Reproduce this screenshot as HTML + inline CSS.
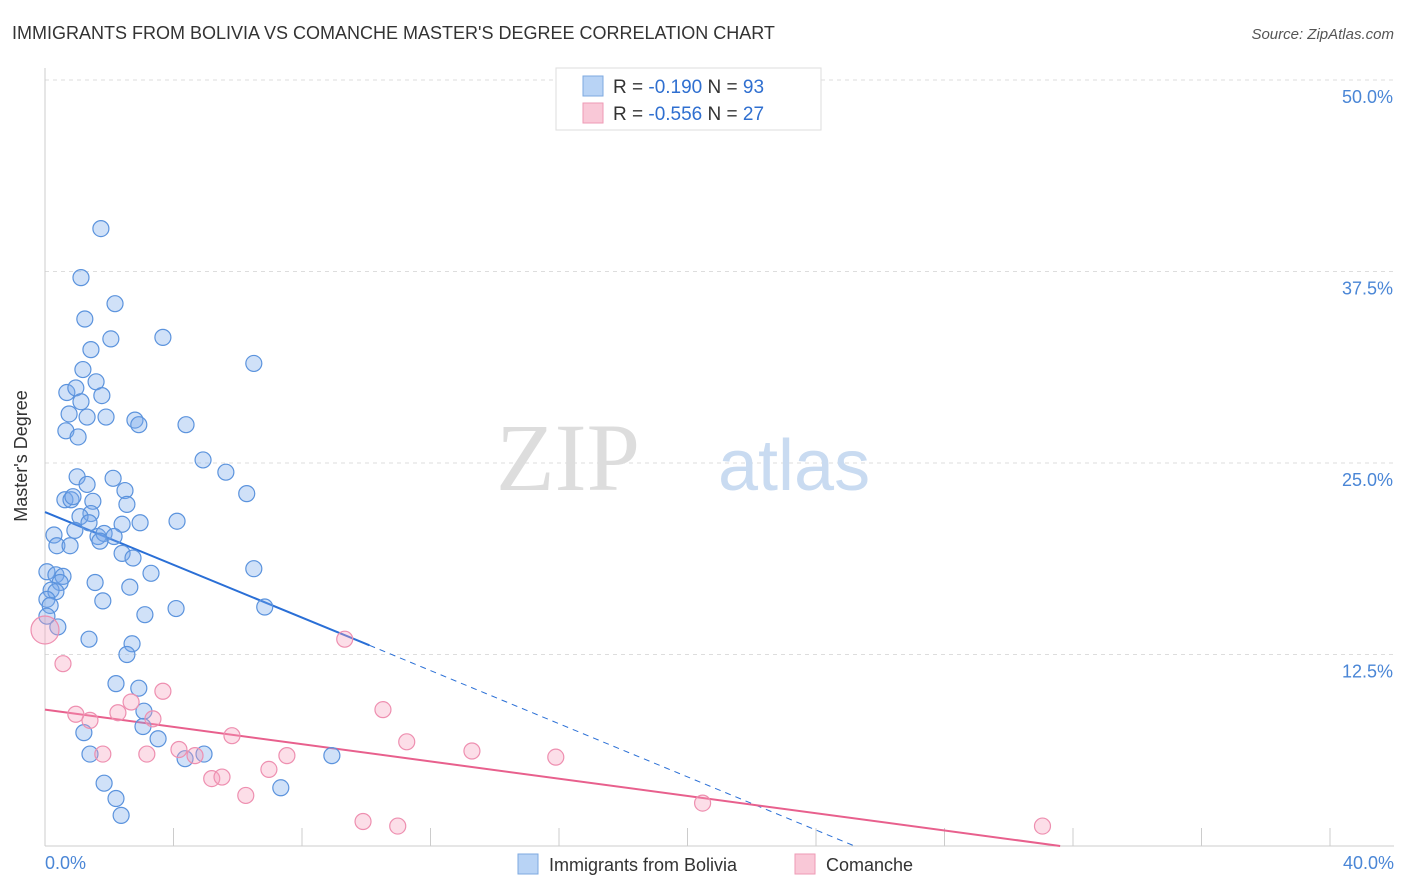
<!DOCTYPE html>
<html><head><meta charset="utf-8"><style>
body{margin:0;background:#fff;font-family:"Liberation Sans",sans-serif;}
svg{display:block}
</style></head><body>
<svg width="1406" height="892" xmlns="http://www.w3.org/2000/svg">
<text x="12" y="39" font-size="18" fill="#333">IMMIGRANTS FROM BOLIVIA VS COMANCHE MASTER'S DEGREE CORRELATION CHART</text>
<text x="1394" y="39" font-size="15" fill="#555" font-style="italic" text-anchor="end">Source: ZipAtlas.com</text>
<g id="grid"></g>
<text x="640" y="490" font-size="96" fill="#ddd" font-family="Liberation Serif" text-anchor="end">ZIP</text>
<text x="718" y="490" font-size="72" fill="#c9dbf1">atlas</text>
<g id="lines"></g>
<g id="points"></g>
<text x="27" y="456" font-size="18" fill="#333" transform="rotate(-90 27 456)" text-anchor="middle">Master's Degree</text>
<text x="45" y="869" font-size="18" fill="#4a86d6">0.0%</text>
<text x="1394" y="869" font-size="18" fill="#4a86d6" text-anchor="end">40.0%</text>
<g>
<rect x="556" y="68" width="265" height="62" fill="#fff" stroke="#ddd"/>
<rect x="583" y="76" width="20" height="20" fill="#b8d3f5" stroke="#7ea9e0"/>
<rect x="583" y="103" width="20" height="20" fill="#f9c8d7" stroke="#ee9ab4"/>
<text x="613" y="93" font-size="19" fill="#333">R = <tspan fill="#2f6fd0">-0.190</tspan>   N = <tspan fill="#2f6fd0">93</tspan></text>
<text x="613" y="120" font-size="19" fill="#333">R = <tspan fill="#2f6fd0">-0.556</tspan>   N = <tspan fill="#2f6fd0">27</tspan></text>
</g>
<g>
<rect x="518" y="854" width="20" height="20" fill="#b8d3f5" stroke="#7ea9e0"/>
<text x="549" y="871" font-size="18" fill="#333">Immigrants from Bolivia</text>
<rect x="795" y="854" width="20" height="20" fill="#f9c8d7" stroke="#ee9ab4"/>
<text x="826" y="871" font-size="18" fill="#333">Comanche</text>
</g>
</svg>
<script>
const yTicks=[12.5,25,37.5,50];
const yTickLabels=["12.5%","25.0%","37.5%","50.0%"];
const xTicks=[0,4,8,12,16,20,24,28,32,36,40];
const blueX=[1.74,1.12,2.18,1.24,2.05,3.67,1.43,6.5,1.18,1.59,0.68,0.96,1.77,1.12,0.75,1.31,1.9,2.8,2.92,4.39,0.65,1.03,4.92,5.63,1.0,2.12,1.31,2.49,6.28,0.62,0.81,0.87,1.49,2.55,1.43,1.09,1.37,2.4,2.96,4.11,0.28,0.93,1.65,1.84,2.15,1.71,0.37,0.78,2.4,2.74,3.3,0.06,0.34,0.56,0.47,1.56,6.5,0.19,0.34,2.64,0.06,0.16,1.8,3.11,4.08,6.84,0.06,0.4,1.37,2.71,2.55,2.21,2.92,3.08,3.05,3.52,1.21,1.4,4.36,4.95,8.93,1.84,2.21,7.34,2.37];
const blueY=[40.3,37.1,35.4,34.4,33.1,33.2,32.4,31.5,31.1,30.3,29.6,29.9,29.4,29.0,28.2,28.0,28.0,27.8,27.5,27.5,27.1,26.7,25.2,24.4,24.1,24.0,23.6,23.2,23.0,22.6,22.6,22.8,22.5,22.3,21.7,21.5,21.1,21.0,21.1,21.2,20.3,20.6,20.2,20.4,20.2,19.9,19.6,19.6,19.1,18.8,17.8,17.9,17.7,17.6,17.2,17.2,18.1,16.7,16.6,16.9,16.1,15.7,16.0,15.1,15.5,15.6,15.0,14.3,13.5,13.2,12.5,10.6,10.3,8.8,7.8,7.0,7.4,6.0,5.7,6.0,5.9,4.1,3.1,3.8,2.0];
const pinkX=[0.0,0.56,0.96,1.4,1.8,2.27,2.68,3.36,3.67,3.17,4.17,4.67,5.82,5.19,5.51,6.25,6.97,7.53,9.33,10.52,11.26,9.9,10.98,13.29,15.9,20.47,31.05];
const pinkY=[14.1,11.9,8.6,8.2,6.0,8.7,9.4,8.3,10.1,6.0,6.3,5.9,7.2,4.4,4.5,3.3,5.0,5.9,13.5,8.9,6.8,1.6,1.3,6.2,5.8,2.8,1.3];
const blueTrend=[0,21.8,10.1,13.1,25.2,0];
const pinkTrend=[0,8.9,31.6,0];
const X0=45,X1=1330,Y0=846,Y50=80;
const sx=v=>X0+(v/40)*(X1-X0);
const sy=v=>Y0-(v/50)*(Y0-Y50);
const NS="http://www.w3.org/2000/svg";
function mk(tag,attrs,parent){const e=document.createElementNS(NS,tag);for(const k in attrs)e.setAttribute(k,attrs[k]);parent.appendChild(e);return e;}
const grid=document.getElementById('grid');
yTicks.forEach((t,i)=>{
 const l=mk('line',{x1:45,x2:1394,y1:sy(t),y2:sy(t),stroke:'#ddd','stroke-dasharray':'4,4'},grid);
 
 
 const tx=mk('text',{x:1393,y:sy(t)+23,'font-size':18,fill:'#4a86d6','text-anchor':'end'},grid);
 tx.textContent=yTickLabels[i];
 
 
});
const ax=mk('line',{x1:45,x2:45,y1:68,y2:846,stroke:'#ccc'},grid);


const bx=mk('line',{x1:45,x2:1394,y1:846,y2:846,stroke:'#ccc'},grid);


xTicks.forEach(t=>{
 const l=mk('line',{x1:sx(t),x2:sx(t),y1:828,y2:846,stroke:'#ccc'},grid);
 
 
});
const lines=document.getElementById('lines');
const bl=mk('line',{x1:sx(blueTrend[0]),y1:sy(blueTrend[1]),x2:sx(blueTrend[2]),y2:sy(blueTrend[3]),stroke:'#2a6fd6','stroke-width':2},lines);


const bd=mk('line',{x1:sx(blueTrend[2]),y1:sy(blueTrend[3]),x2:sx(blueTrend[4]),y2:sy(blueTrend[5]),stroke:'#2a6fd6','stroke-width':1,'stroke-dasharray':'6,5'},lines);


const pl=mk('line',{x1:sx(pinkTrend[0]),y1:sy(pinkTrend[1]),x2:sx(pinkTrend[2]),y2:sy(pinkTrend[3]),stroke:'#e8608d','stroke-width':2},lines);


const pts=document.getElementById('points');
blueX.forEach((x,i)=>{
 const c=mk('circle',{cx:sx(x),cy:sy(blueY[i]),r:8,fill:'rgba(120,170,235,0.35)',stroke:'#5b93dd','stroke-width':1.2},pts);
 
 
});
pinkX.forEach((x,i)=>{
 const c=mk('circle',{cx:sx(x),cy:sy(pinkY[i]),r:i==0?14:8,fill:'rgba(245,160,190,0.35)',stroke:'#ee8fb0','stroke-width':1.2},pts);
 
 
});
</script>
</body></html>
